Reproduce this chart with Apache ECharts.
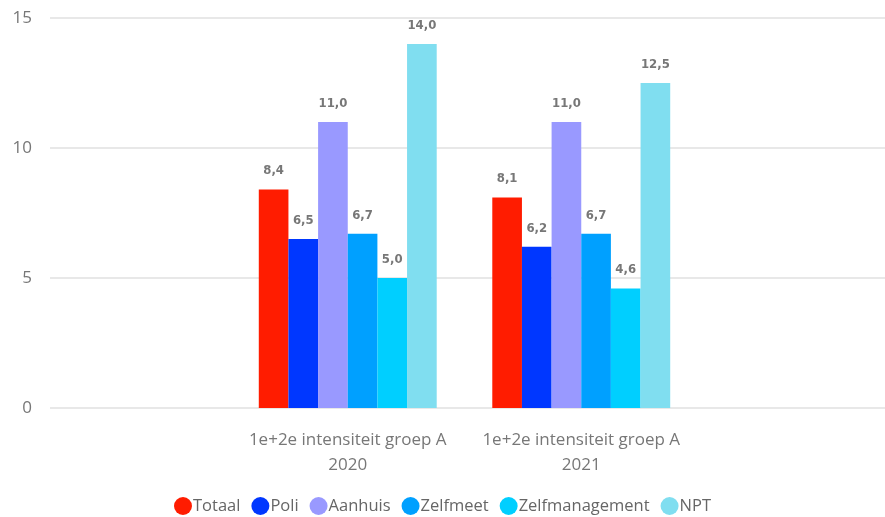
<!DOCTYPE html>
<html>
<head>
<meta charset="utf-8">
<script src="https://cdn.jsdelivr.net/npm/echarts@6/dist/echarts.min.js"></script>
<style>html,body{margin:0;padding:0;background:#fff}#c{width:885px;height:517px}</style>
</head>
<body>
<div id="c"></div>
<script>
const categories = ['1e+2e intensiteit groep A\n2020', '1e+2e intensiteit groep A\n2021'];
const seriesNames = ['Totaal', 'Poli', 'Aanhuis', 'Zelfmeet', 'Zelfmanagement', 'NPT'];
const totaal = [8.4, 8.1];
const poli = [6.5, 6.2];
const aanhuis = [11.0, 11.0];
const zelfmeet = [6.7, 6.7];
const zelfmanagement = [5.0, 4.6];
const npt = [14.0, 12.5];
const yTicks = [0, 5, 10, 15];
const colors = ['#FF1C00', '#0037FF', '#9999FF', '#00A0FF', '#00CFFF', '#80DEF0'];

const values = [totaal, poli, aanhuis, zelfmeet, zelfmanagement, npt];
const chart = echarts.init(document.getElementById('c'));
chart.setOption({
  animation: false,
  grid: [
    {left: 50, right: 0, top: 18, bottom: 109},
    {left: 231, right: 187, top: 18, bottom: 109}
  ],
  xAxis: [
    {gridIndex: 0, type: 'category', data: ['a'], show: false},
    {gridIndex: 1, type: 'category', data: categories,
      axisLine: {show: false}, axisTick: {show: false},
      axisLabel: {color: '#777', fontSize: 17, fontFamily: 'Open Sans', lineHeight: 25, margin: 20, interval: 0}}
  ],
  yAxis: [
    {gridIndex: 0, type: 'value', min: yTicks[0], max: yTicks[yTicks.length-1], interval: 5,
      axisLine: {show: false}, axisTick: {show: false},
      axisLabel: {color: '#777', fontSize: 17, fontFamily: 'Open Sans', margin: 18},
      splitLine: {lineStyle: {color: '#E8E8E8', width: 2}}},
    {gridIndex: 1, type: 'value', min: yTicks[0], max: yTicks[yTicks.length-1], interval: 5, show: false,
      splitLine: {show: false}}
  ],
  legend: {
    bottom: -3, left: 'center', icon: 'circle', itemWidth: 18, itemHeight: 18, itemGap: 11,
    textStyle: {color: '#666', fontSize: 16.5, fontFamily: 'Open Sans', padding: [0,0,0,-4]},
    data: seriesNames
  },
  color: colors,
  series: seriesNames.map((n, i) => ({
    name: n, type: 'bar', xAxisIndex: 1, yAxisIndex: 1,
    data: values[i], barGap: '0%', barCategoryGap: '23.8%',
    itemStyle: {color: colors[i]},
    label: {show: true, position: 'top', distance: 12, color: '#777', fontWeight: 'bold',
      fontSize: 13, fontFamily: 'DejaVu Sans Condensed',
      formatter: p => p.value.toFixed(1).replace('.', ',')}
  }))
});
</script>
</body>
</html>
